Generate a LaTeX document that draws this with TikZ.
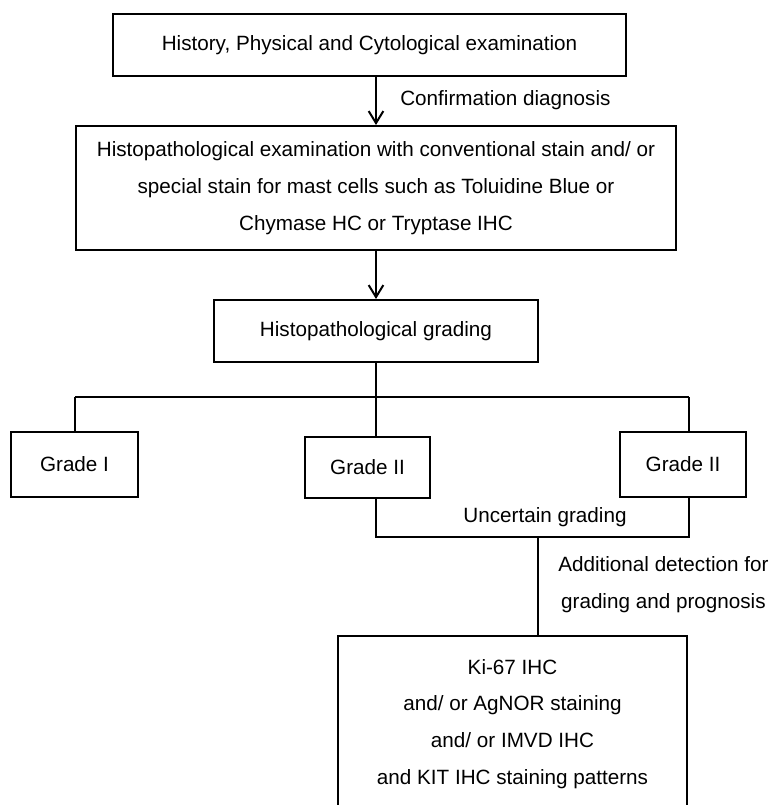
\documentclass[tikz,border=0pt]{standalone}
\usepackage{fontspec}
\setmainfont{Liberation Sans}
\usetikzlibrary{arrows.meta}
\tikzset{
  box/.style={draw, line width=1.5pt, rectangle, align=center, inner sep=0pt},
  lbl/.style={inner sep=0pt, align=center},
  conn/.style={line width=1.5pt},
  arr/.style={line width=1.5pt, -{Straight Barb[length=9pt,width=11pt,line width=1.5pt]}}
}
\begin{document}
\begin{tikzpicture}[x=0.75pt,y=-0.75pt,font=\fontsize{15.5pt}{27.6pt}\selectfont]
\useasboundingbox (0,0) rectangle (768,805);
\clip (0,0) rectangle (768,805);
\fill[white] (0,0) rectangle (768,805);

\node[box, minimum width=384.75pt, minimum height=46.5pt] (b1) at (369.5,45)
  {History, Physical and Cytological examination};
\node[box, minimum width=450pt, minimum height=93pt] (b2) at (376,188)
  {Histopathological examination with conventional stain and/ or\\
   special stain for mast cells such as Toluidine Blue or\\
   Chymase HC or Tryptase IHC};
\node[box, minimum width=243pt, minimum height=46.5pt] (b3) at (376,331)
  {Histopathological grading};

\node[box, minimum width=95.25pt, minimum height=48.75pt] (g1) at (74.5,464.5) {Grade I};
\node[box, minimum width=93.75pt, minimum height=45.75pt] (g2) at (367.5,467.5) {Grade II};
\node[box, minimum width=94.5pt, minimum height=48.75pt] (g3) at (683,464.5) {Grade II};

\node[box, minimum width=261.75pt, minimum height=153pt] (ki) at (512.5,738) {};
\node[lbl] (kitext) at (512.5,724)
  {Ki-67 IHC\\ and/ or AgNOR staining\\ and/ or IMVD IHC\\ and KIT IHC staining patterns};

\node[lbl, anchor=west] (confl) at (400,100) {Confirmation diagnosis};
\node[lbl] (uncl) at (545,517) {Uncertain grading};
\node[lbl, anchor=west] (addl) at (558,585) {Additional detection for\\ grading and prognosis};

\coordinate (busL) at (75,397);
\coordinate (busM) at (376,397);
\coordinate (busR) at (689,397);
\coordinate (uc) at (538,537);

\draw[arr] (b1.south -| b2.north) -- (b2.north);
\draw[arr] (b2.south) -- (b3.north);
\draw[conn] (b3.south) -- (busM);
\draw[conn] (busL) -- (busR);
\draw[conn] (busL) -- (busL |- g1.north);
\draw[conn] (busM) -- (busM |- g2.north);
\draw[conn] (busR) -- (busR |- g3.north);
\draw[conn] (g2.south -| busM) -- (busM |- uc) -- (uc -| busR) -- (busR |- g3.south);
\draw[conn] (uc) -- (uc |- ki.north);
\end{tikzpicture}
\end{document}
